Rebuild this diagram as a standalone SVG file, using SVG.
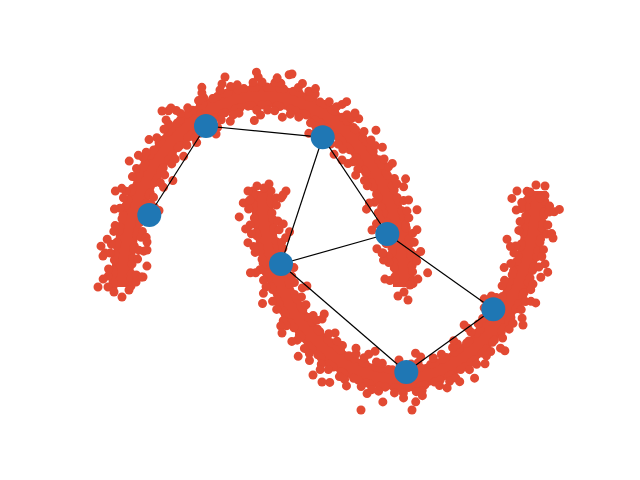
<svg xmlns="http://www.w3.org/2000/svg" width="640" height="480" viewBox="0 0 640 480">
<style>
.core{fill:none;stroke:#E24A33;stroke-width:22;stroke-linecap:butt}
.d{fill:none;stroke:#E24A33;stroke-width:9;stroke-linecap:round}
.a{stroke-dasharray:0 5 0 8 0 4 0 10 0 6 0 9 0 3 0 11}
.b{stroke-dasharray:0 11 0 7 0 16 0 9 0 13 0 6 0 18}
.c{stroke-dasharray:0 19 0 26 0 14 0 31 0 22 0 37}
.e{stroke-dasharray:0 41 0 57 0 33 0 64}
.o circle{fill:#E24A33}
.edge{stroke:#000;stroke-width:1.2;fill:none}
.node{fill:#1f77b4}
</style>
<rect width="640" height="480" fill="#fff"/>
<g id="moon1">
<path class="core" d="M122 287 A141 191 0 0 1 404 287"/>
<path class="d a" d="M113 287 A150 200 0 0 1 413 287"/>
<path class="d a" d="M131 287 A132 182 0 0 1 395 287" style="stroke-dashoffset:4"/>
<path class="d b" d="M108 287 A155 205 0 0 1 418 287"/>
<path class="d b" d="M136 287 A127 177 0 0 1 390 287" style="stroke-dashoffset:6"/>
<path class="d c" d="M103 287 A160 210 0 0 1 423 287" style="stroke-dashoffset:11"/>
<path class="d c" d="M141 287 A122 172 0 0 1 385 287" style="stroke-dashoffset:9"/>
<path class="d e" d="M98 287 A165 215 0 0 1 428 287"/>
<path class="d e" d="M146 287 A117 167 0 0 1 380 287" style="stroke-dashoffset:20"/>
</g>
<g id="moon2">
<path class="core" d="M262 191 A137 188 0 0 0 536 191"/>
<path class="d a" d="M253 191 A146 197 0 0 0 545 191"/>
<path class="d a" d="M271 191 A128 179 0 0 0 527 191" style="stroke-dashoffset:5"/>
<path class="d b" d="M248 191 A151 202 0 0 0 550 191"/>
<path class="d b" d="M276 191 A123 174 0 0 0 522 191" style="stroke-dashoffset:4"/>
<path class="d c" d="M243 191 A156 207 0 0 0 555 191" style="stroke-dashoffset:7"/>
<path class="d c" d="M281 191 A118 169 0 0 0 517 191" style="stroke-dashoffset:12"/>
<path class="d e" d="M238 191 A161 212 0 0 0 560 191" style="stroke-dashoffset:15"/>
<path class="d e" d="M286 191 A113 164 0 0 0 512 191"/>
</g>
<g class="o" id="outliers">
<circle cx="225" cy="77" r="4.5"/><circle cx="292" cy="74" r="4.5"/><circle cx="103" cy="256" r="4.5"/>
<circle cx="162" cy="111" r="4.5"/><circle cx="171" cy="108" r="4.5"/><circle cx="147" cy="242" r="4.5"/>
<circle cx="147" cy="250" r="4.5"/><circle cx="143" cy="277" r="4.5"/><circle cx="355" cy="113" r="4.5"/>
<circle cx="342" cy="160" r="4.5"/><circle cx="383" cy="253" r="4.5"/><circle cx="257" cy="186" r="4.5"/>
<circle cx="269" cy="184" r="4.5"/><circle cx="283" cy="195" r="4.5"/><circle cx="361" cy="410" r="4.5"/>
<circle cx="412" cy="410" r="4.5"/><circle cx="313" cy="375" r="4.5"/><circle cx="322" cy="382" r="4.5"/>
<circle cx="282" cy="333" r="4.5"/><circle cx="523" cy="325" r="4.5"/><circle cx="553" cy="238" r="4.5"/>
<circle cx="536" cy="185" r="4.5"/><circle cx="382" cy="253" r="4.5"/><circle cx="372" cy="230" r="4.5"/>
<circle cx="408" cy="300" r="4.5"/><circle cx="404" cy="292" r="4.5"/><circle cx="398" cy="296" r="4.5"/>
<circle cx="122" cy="297" r="4.5"/><circle cx="114" cy="292" r="4.5"/><circle cx="129" cy="290" r="4.5"/>
<circle cx="545" cy="186" r="4.5"/><circle cx="530" cy="192" r="4.5"/><circle cx="264" cy="188" r="4.5"/>
<circle cx="250" cy="200" r="4.5"/><circle cx="540" cy="198" r="4.5"/><circle cx="410" cy="285" r="4.5"/>
</g>
<g id="connectors">
<line class="edge" x1="206" y1="126" x2="322.7" y2="137.3"/>
<line class="edge" x1="206" y1="126" x2="149.3" y2="215"/>
<line class="edge" x1="322.7" y1="137.3" x2="281" y2="264"/>
<line class="edge" x1="322.7" y1="137.3" x2="387.3" y2="234"/>
<line class="edge" x1="281" y1="264" x2="387.3" y2="234"/>
<line class="edge" x1="281" y1="264" x2="406.3" y2="372"/>
<line class="edge" x1="387.3" y1="234" x2="493.3" y2="309.3"/>
<line class="edge" x1="493.3" y1="309.3" x2="406.3" y2="372"/>
</g>
<g id="n1"><circle class="node" cx="206" cy="126" r="12"/></g>
<g id="n2"><circle class="node" cx="322.7" cy="137.3" r="12"/></g>
<g id="n3"><circle class="node" cx="149.3" cy="215" r="12"/></g>
<g id="n4"><circle class="node" cx="387.3" cy="234" r="12"/></g>
<g id="n5"><circle class="node" cx="281" cy="264" r="12"/></g>
<g id="n6"><circle class="node" cx="493.3" cy="309.3" r="12"/></g>
<g id="n7"><circle class="node" cx="406.3" cy="372" r="12"/></g>
</svg>
